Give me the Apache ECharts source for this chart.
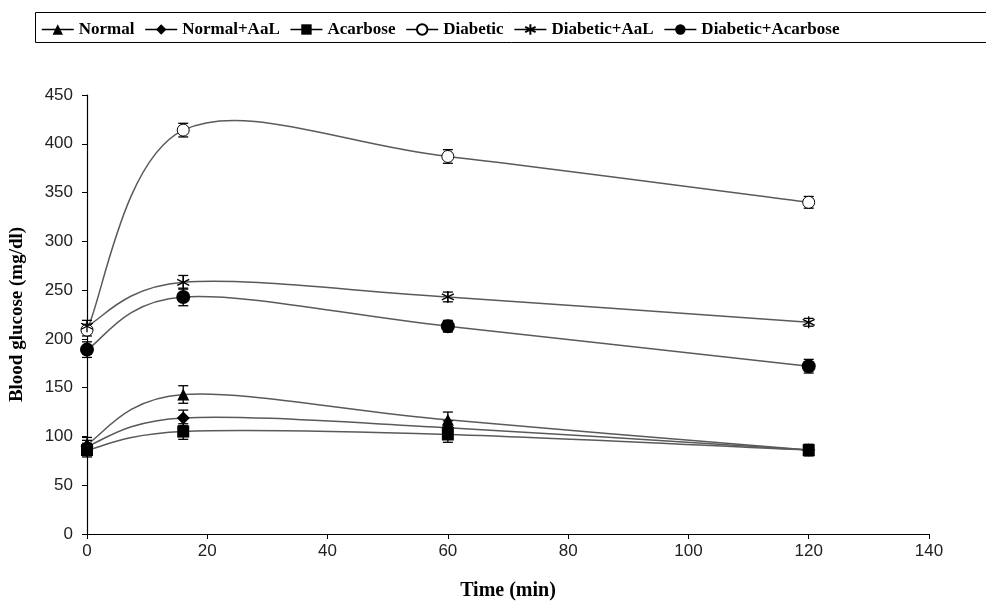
<!DOCTYPE html>
<html>
<head>
<meta charset="utf-8">
<script src="https://cdn.jsdelivr.net/npm/echarts@6/dist/echarts.min.js"></script>
<style>
  html, body { margin: 0; padding: 0; background: #fff; }
  #chart { width: 986px; height: 602px; }
</style>
</head>
<body>
<div id="chart"></div>
<script>
const times = [0, 16, 60, 120];
const xTicks = [0, 20, 40, 60, 80, 100, 120, 140];
const yTicks = [0, 50, 100, 150, 200, 250, 300, 350, 400, 450];

const normal = [92, 143, 117, 86];
const normalAaL = [90, 119, 109, 86];
const acarbose = [86, 105, 102, 86];
const diabetic = [209, 414, 387, 340];
const diabeticAaL = [213, 258, 243, 217];
const diabeticAcarbose = [189, 243, 213, 172];

const normalErr = [7, 9, 8, 5];
const normalAaLErr = [6, 8, 7, 5];
const acarboseErr = [7, 8, 8, 6];
const diabeticErr = [6, 7, 7, 6];
const diabeticAaLErr = [6, 7, 5, 4];
const diabeticAcarboseErr = [8, 9, 6, 7];

const asterisk = "path://M0,-10L0,10M-8.66,-5L8.66,5M-8.66,5L8.66,-5";

const groups = [
  { name: "Normal", values: normal, err: normalErr, symbol: "triangle", size: 12, style: { color: "#000" } },
  { name: "Normal+AaL", values: normalAaL, err: normalAaLErr, symbol: "diamond", size: 13, style: { color: "#000" } },
  { name: "Acarbose", values: acarbose, err: acarboseErr, symbol: "rect", size: 12, style: { color: "#000" } },
  { name: "Diabetic", values: diabetic, err: diabeticErr, symbol: "circle", size: 12, style: { color: "#fff", borderColor: "#000", borderWidth: 1 } },
  { name: "Diabetic+AaL", values: diabeticAaL, err: diabeticAaLErr, symbol: asterisk, size: 12, style: { color: "transparent", borderColor: "#000", borderWidth: 1.3 } },
  { name: "Diabetic+Acarbose", values: diabeticAcarbose, err: diabeticAcarboseErr, symbol: "circle", size: 14, style: { color: "#000" } },
];

const chart = echarts.init(document.getElementById("chart"));

// Excel-like smooth curve (catmull-rom in pixel space)
const curveRender = (values) => (params, api) => {
  const pts = times.map((t, i) => api.coord([t, values[i]]));
  let d = "M" + pts[0][0] + " " + pts[0][1];
  for (let i = 0; i < pts.length - 1; i++) {
    const p0 = pts[Math.max(i - 1, 0)];
    const p1 = pts[i];
    const p2 = pts[i + 1];
    const p3 = pts[Math.min(i + 2, pts.length - 1)];
    const c1 = [p1[0] + (p2[0] - p0[0]) / 6, p1[1] + (p2[1] - p0[1]) / 6];
    const c2 = [p2[0] - (p3[0] - p1[0]) / 6, p2[1] - (p3[1] - p1[1]) / 6];
    d += " C" + c1.join(" ") + " " + c2.join(" ") + " " + p2.join(" ");
  }
  return {
    type: "path",
    shape: { pathData: d },
    style: { fill: "none", stroke: "#5a5a5a", lineWidth: 1.5 },
  };
};

const errorRender = (params, api) => {
  const x = api.value(0);
  const hi = api.coord([x, api.value(1) + api.value(2)]);
  const lo = api.coord([x, api.value(1) - api.value(2)]);
  const w = 5;
  const st = { stroke: "#000", lineWidth: 1.3 };
  return {
    type: "group",
    children: [
      { type: "line", shape: { x1: hi[0], y1: hi[1], x2: lo[0], y2: lo[1] }, style: st },
      { type: "line", shape: { x1: hi[0] - w, y1: hi[1], x2: hi[0] + w, y2: hi[1] }, style: st },
      { type: "line", shape: { x1: lo[0] - w, y1: lo[1], x2: lo[0] + w, y2: lo[1] }, style: st },
    ],
  };
};

const series = [];
groups.forEach((g) => {
  series.push({
    type: "custom",
    renderItem: curveRender(g.values),
    data: [[0]],
    silent: true,
    z: 1,
  });
  series.push({
    type: "custom",
    renderItem: errorRender,
    data: times.map((t, i) => [t, g.values[i], g.err[i]]),
    silent: true,
    z: 2,
  });
  series.push({
    name: g.name,
    type: "line",
    data: times.map((t, i) => [t, g.values[i]]),
    symbol: g.symbol,
    symbolSize: g.size,
    itemStyle: g.style,
    lineStyle: { opacity: 0 },
    z: 3,
  });
});

const option = {
  animation: false,
  graphic: [
    {
      type: "rect",
      left: 33,
      top: 10,
      shape: { width: 1000, height: 30 },
      style: { fill: "none", stroke: "#000", lineWidth: 1 },
    },
  ],
  legend: {
    data: groups.map((g) => g.name),
    left: 36,
    top: 16,
    itemWidth: 32,
    itemHeight: 13,
    itemGap: 10,
    lineStyle: { color: "#000", width: 1.5, opacity: 1 },
    textStyle: {
      fontFamily: "Liberation Serif, Times New Roman, serif",
      fontWeight: "bold",
      fontSize: 17,
      color: "#000",
    },
  },
  grid: { left: 87, right: 57, top: 95, bottom: 68, outerBoundsMode: "none" },
  xAxis: {
    type: "value",
    min: xTicks[0],
    max: xTicks[xTicks.length - 1],
    interval: 20,
    name: "Time (min)",
    nameLocation: "middle",
    nameGap: 47,
    nameTextStyle: {
      fontFamily: "Liberation Serif, Times New Roman, serif",
      fontWeight: "bold",
      fontSize: 20,
      color: "#000",
    },
    axisLine: { lineStyle: { color: "#000", width: 1.2 } },
    axisTick: { show: true, length: 5, lineStyle: { color: "#000" } },
    axisLabel: {
      fontFamily: "Liberation Sans, Arial, sans-serif",
      fontSize: 17,
      color: "#222",
      margin: 9,
    },
    splitLine: { show: false },
  },
  yAxis: {
    type: "value",
    min: yTicks[0],
    max: yTicks[yTicks.length - 1],
    interval: 50,
    name: "Blood glucose (mg/dl)",
    nameLocation: "middle",
    nameGap: 60,
    nameTextStyle: {
      fontFamily: "Liberation Serif, Times New Roman, serif",
      fontWeight: "bold",
      fontSize: 19,
      color: "#000",
    },
    axisLine: { show: true, lineStyle: { color: "#000", width: 1.2 } },
    axisTick: { show: true, length: 5, lineStyle: { color: "#000" } },
    axisLabel: {
      fontFamily: "Liberation Sans, Arial, sans-serif",
      fontSize: 17,
      color: "#222",
      margin: 14,
    },
    splitLine: { show: false },
  },
  series: series,
};

chart.setOption(option);
</script>
</body>
</html>
